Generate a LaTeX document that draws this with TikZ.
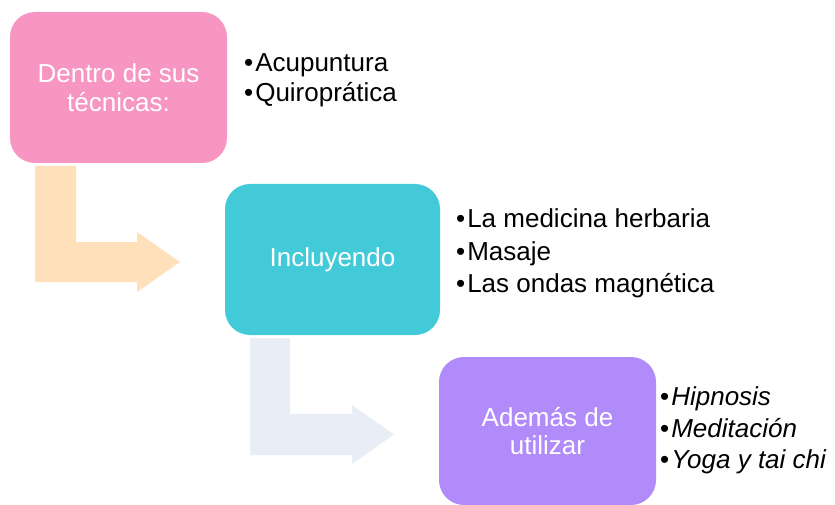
\documentclass[tikz,border=0pt]{standalone}
\usepackage{fontspec}
\setmainfont{Liberation Sans}
\usetikzlibrary{positioning}
\definecolor{pinkbox}{RGB}{247,150,194}
\definecolor{cyanbox}{RGB}{66,202,216}
\definecolor{purplebox}{RGB}{176,139,249}
\definecolor{peacharrow}{RGB}{255,224,187}
\definecolor{grayarrow}{RGB}{232,237,246}

\begin{document}
\begin{tikzpicture}[x=1pt,y=-1pt,
    box/.style={rounded corners=25pt,minimum width=217pt,minimum height=151pt,inner sep=0pt,text=white,align=center,font=\fontsize{26}{28.5}\selectfont},
    item/.style={anchor=base west,inner sep=0pt,font=\fontsize{26}{31}\selectfont}]
    \useasboundingbox (0,0) rectangle (835,505);
    \fill[peacharrow] (35,166) -- (76,166) -- (76,242) -- (137,242) -- (137,232) -- (180,262) -- (137,292) -- (137,282) -- (35,282) -- cycle;
    \fill[grayarrow] (250,338) -- (290,338) -- (290,414) -- (352,414) -- (352,405) -- (394,434.5) -- (352,464) -- (352,455) -- (250,455) -- cycle;
    \node[box,fill=pinkbox] (dentro) at (118.5,87.5) {Dentro de sus\\técnicas:};
    \node[box,fill=cyanbox,minimum width=215pt] (incluyendo) at (332.5,259.5) {Incluyendo};
    \node[box,fill=purplebox,minimum height=148pt] (ademas) at (547.5,431) {Además de\\utilizar};
    \node[item] (acupuntura) at (244,72) {•\hspace{2pt}Acupuntura};
    \node[item] (quiropratica) at (244,102) {•\hspace{2pt}Quiroprática};
    \node[item] (herbaria) at (456,227) {•\hspace{2pt}La medicina herbaria};
    \node[item] (masaje) at (456,260) {•\hspace{2pt}Masaje};
    \node[item] (ondas) at (456,292) {•\hspace{2pt}Las ondas magnética};
    \node[item] (hipnosis) at (660,405) {•\hspace{2pt}\itshape Hipnosis};
    \node[item] (meditacion) at (660,437) {•\hspace{2pt}\itshape Meditación};
    \node[item] (yoga) at (660,468) {•\hspace{2pt}\itshape Yoga y tai chi};
\end{tikzpicture}
\end{document}
